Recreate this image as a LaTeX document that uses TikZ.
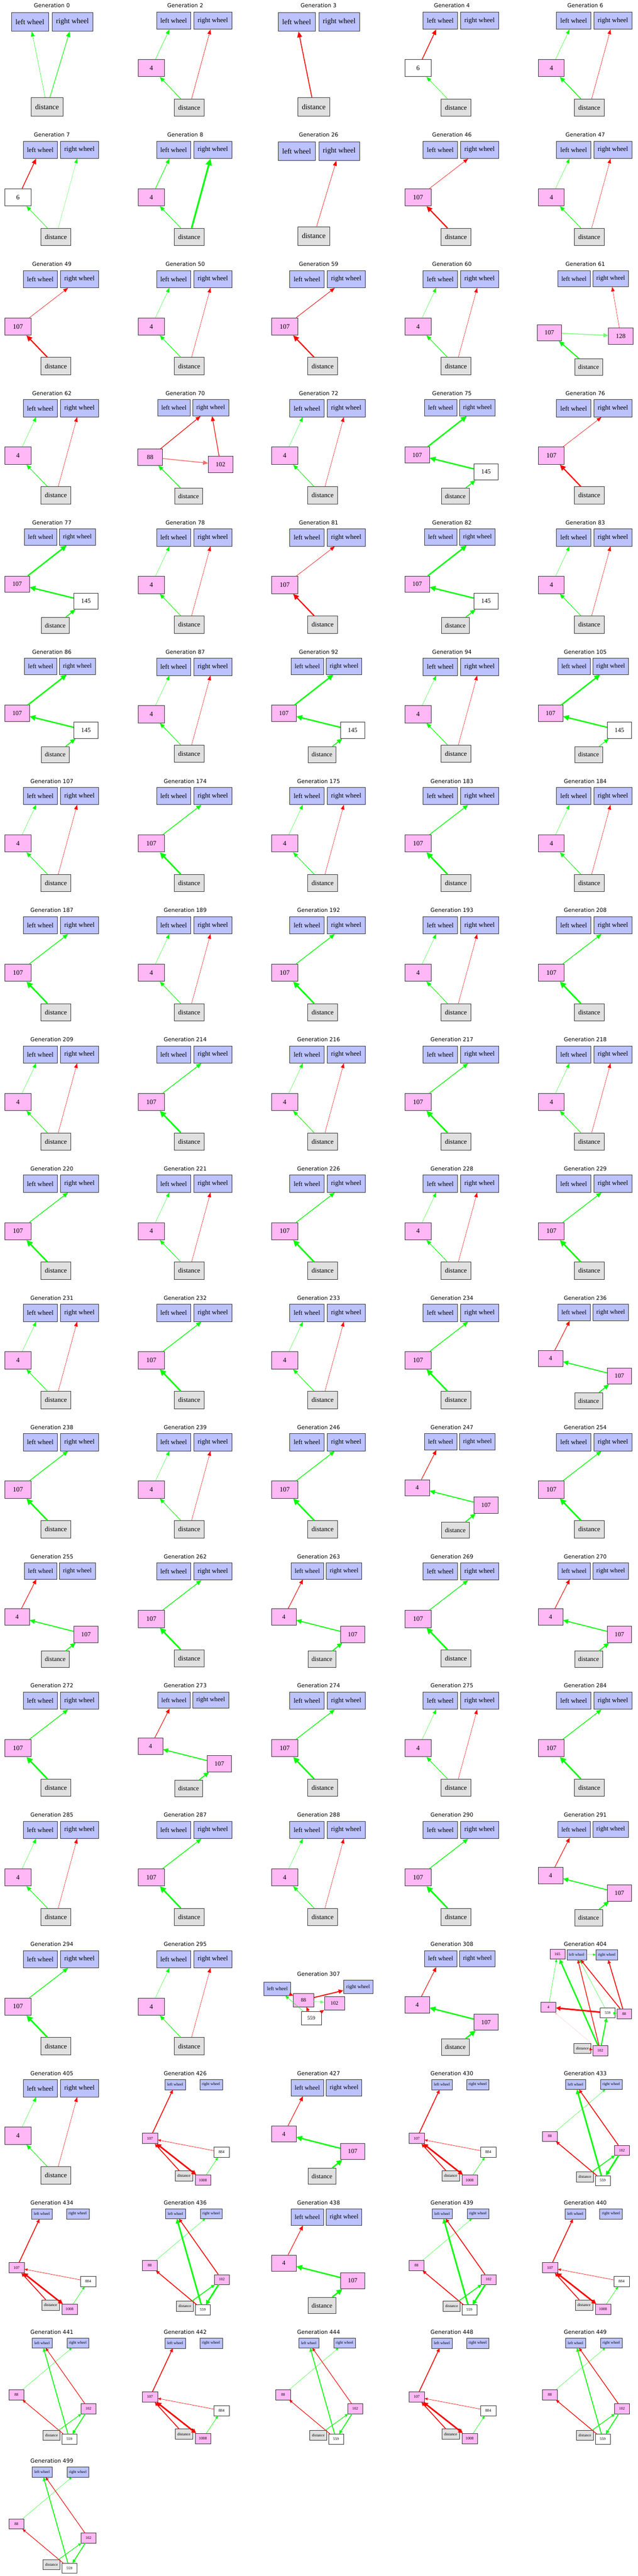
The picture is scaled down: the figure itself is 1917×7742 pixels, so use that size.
\documentclass[tikz,border=0pt]{standalone}
\usepackage{fontspec}
\setmainfont{Liberation Serif}
\newfontfamily\gentitlefont{DejaVu Sans}
\usetikzlibrary{arrows.meta}

\definecolor{wheelblue}{RGB}{187,194,255}
\definecolor{hiddenpink}{RGB}{255,184,245}
\definecolor{sensorgrey}{RGB}{224,224,224}
\definecolor{posgreen}{RGB}{0,255,0}
\definecolor{negred}{RGB}{255,0,0}
\definecolor{palepos}{RGB}{110,255,110}
\definecolor{paleneg}{RGB}{255,105,105}
\definecolor{faintneg}{RGB}{255,195,195}

\newcommand{\setgs}[1]{\def\gs{#1}\pgfmathsetmacro{\tipl}{9*#1}\pgfmathsetmacro{\tipw}{6.5*#1}}
\newcommand{\gfont}{\fontsize{\fpeval{14*\gs}}{\fpeval{16*\gs}}\selectfont}

\tikzset{
  gbox/.style={rectangle, draw=black!80, line width={0.9*\gs}, minimum height={36*\gs},
    minimum width={54*\gs}, inner xsep={7.9*\gs}, inner ysep=0pt, font=\gfont},
  wheel/.style={gbox, fill=wheelblue},
  hidden/.style={gbox, fill=hiddenpink},
  plainbox/.style={gbox, fill=white},
  sensor/.style={gbox, fill=sensorgrey},
  gentitle/.style={font=\gentitlefont\fontsize{16.5}{19}\selectfont, inner sep=0pt},
  link/.style={draw, arrows={-Triangle[length=\tipl pt 1.3, width=\tipw pt 1.8]}},
  twoway/.style={arrows={Triangle[length=\tipl pt 1.3, width=\tipw pt 1.8]-Triangle[length=\tipl pt 1.3, width=\tipw pt 1.8]}},
  grn/.style={link, draw=posgreen, line width=#1pt},
  rd/.style={link, draw=negred, line width=#1pt},
  palegrn/.style={link, draw=palepos, line width=#1pt},
  palerd/.style={link, draw=paleneg, line width=#1pt},
  faintrd/.style={link, draw=faintneg, line width=#1pt}
}

\newcommand{\nohidden}[4]{%
  \begin{scope}[shift={(#1*401,#2*388.4)}]
    \setgs{1.556}
    \node[gentitle] (title#3) at (156,17) {Generation #3};
    \node[wheel] (lw#3) at (90,66) {left wheel};
    \node[wheel] (rw#3) at (218,66) {right wheel};
    \node[sensor] (d#3) at (141.5,321) {distance};
    \path #4;
  \end{scope}}

\newcommand{\onehidden}[6]{%
  \begin{scope}[shift={(#1*401,#2*388.4)}]
    \setgs{1.44}
    \node[gentitle] (title#3) at (156,17) {Generation #3};
    \node[wheel] (lw#3) at (121,62) {left wheel};
    \node[wheel] (rw#3) at (239,62) {right wheel};
    \node[#5] (h#3) at (54,204.5) {#4};
    \node[sensor] (d#3) at (168,323.5) {distance};
    \path #6;
  \end{scope}}

\newcommand{\fourpanel}[3]{\onehidden{#1}{#2}{#3}{4}{hidden}{(d#3) edge[grn=1.5] (h#3) (h#3) edge[grn=0.6] (lw#3) (d#3) edge[rd=0.8] (rw#3)}}
\newcommand{\greenpanel}[3]{\onehidden{#1}{#2}{#3}{107}{hidden}{(d#3) edge[grn=4.5] (h#3) (h#3) edge[grn=2] (rw#3)}}
\newcommand{\redpanel}[3]{\onehidden{#1}{#2}{#3}{107}{hidden}{(d#3) edge[rd=3.5] (h#3) (h#3) edge[rd=1] (rw#3)}}

\newcommand{\twohidden}[9]{%
  \begin{scope}[shift={(#1*401,#2*388.4)}]
    \setgs{1.36}
    \node[gentitle] (title#3) at (156,17) {Generation #3};
    \node[wheel] (lw#3) at (122,60.5) {left wheel};
    \node[wheel] (rw#3) at (232.5,60.5) {right wheel};
    \node[hidden] (p#3) at #5 {#4};
    \node[#7] (q#3) at #8 {#6};
    \node[sensor] (d#3) at (166,326) {distance};
    \path #9;
  \end{scope}}

\newcommand{\relaypanel}[4]{\twohidden{#1}{#2}{#3}{107}{(51.5,202)}{145}{plainbox}{(258.5,253)}{(d#3) edge[grn=#4] (q#3) (q#3) edge[grn=4] (p#3) (p#3) edge[grn=4] (rw#3)}}
\newcommand{\crosspanel}[4]{\twohidden{#1}{#2}{#3}{4}{(51.5,199)}{107}{hidden}{(258.5,251.5)}{(d#3) edge[grn=#4] (q#3) (q#3) edge[grn=#4] (p#3) (p#3) edge[rd=1.6] (lw#3)}}

\newcommand{\loopnet}[3]{%
  \begin{scope}[shift={(#1*401,#2*388.4)}]
    \setgs{0.86}
    \node[gentitle] (title#3) at (156,17) {Generation #3};
    \node[wheel] (lw#3) at (126,50.5) {left wheel};
    \node[wheel] (rw#3) at (233.5,50.5) {right wheel};
    \node[hidden] (h#3) at (50,212.5) {107};
    \node[plainbox] (n884-#3) at (265,253.5) {884};
    \node[sensor] (d#3) at (152,324.5) {distance};
    \node[hidden] (n1008-#3) at (209,337.5) {1008};
    \path (h#3) edge[rd=2.5] (lw#3)
          (n884-#3) edge[rd=1] (h#3)
          (d#3) edge[rd=2.5] (h#3)
          (h#3) edge[rd=4.5, twoway] (n1008-#3)
          (n1008-#3) edge[grn=1] (n884-#3);
  \end{scope}}

\newcommand{\crossnet}[5]{%
  \begin{scope}[shift={(#1*401,#2*388.4)}]
    \setgs{0.83}
    \node[gentitle] (title#3) at (156,17) {Generation #3};
    \node[wheel] (lw#3) at (126.5,50) {left wheel};
    \node[wheel] (rw#3) at (234,50) {right wheel};
    \node[hidden] (n88-#3) at (49.5,206) {88};
    \node[hidden] (n102-#3) at (266,248) {102};
    \node[sensor] (d#3) at (155,328) {distance};
    \node[plainbox] (n559-#3) at (208.5,339) {559};
    \path (n88-#3) edge[grn=0.6] (rw#3)
          (n559-#3) edge[grn=#4] (lw#3)
          (n102-#3) edge[rd=#5] (lw#3)
          (n559-#3) edge[rd=#5] (n88-#3)
          (d#3) edge[grn=#5] (n102-#3)
          (n102-#3) edge[grn=#4] (n559-#3);
  \end{scope}}

\begin{document}
\begin{tikzpicture}[x=1pt,y=-1pt]
\path[use as bounding box, fill=white] (0,0) rectangle (1917,7742);

\nohidden{0}{0}{0}{(d0) edge[grn=0.8] (lw0) (d0) edge[grn=1.6] (rw0)}
\onehidden{1}{0}{2}{4}{hidden}{(d2) edge[grn=1.6] (h2) (h2) edge[grn=0.9] (lw2) (d2) edge[rd=1] (rw2)}
\nohidden{2}{0}{3}{(d3) edge[rd=2.5] (lw3)}
\onehidden{3}{0}{4}{6}{plainbox}{(d4) edge[grn=1] (h4) (h4) edge[rd=2.2] (lw4)}
\onehidden{4}{0}{6}{4}{hidden}{(d6) edge[grn=2.2] (h6) (h6) edge[grn=0.7] (lw6) (d6) edge[rd=0.9] (rw6)}

\onehidden{0}{1}{7}{6}{plainbox}{(d7) edge[grn=1.3] (h7) (h7) edge[rd=2.2] (lw7) (d7) edge[grn=0.4] (rw7)}
\onehidden{1}{1}{8}{4}{hidden}{(d8) edge[grn=1.5] (h8) (h8) edge[grn=1.5] (lw8) (d8) edge[grn=5] (rw8)}
\nohidden{2}{1}{26}{(d26) edge[rd=1] (rw26)}
\redpanel{3}{1}{46}
\fourpanel{4}{1}{47}

\redpanel{0}{2}{49}
\fourpanel{1}{2}{50}
\onehidden{2}{2}{59}{107}{hidden}{(d59) edge[rd=3.5] (h59) (h59) edge[rd=1.4] (rw59)}
\fourpanel{3}{2}{60}
\twohidden{4}{2}{61}{107}{(48,223)}{128}{hidden}{(262.5,233)}{(d61) edge[grn=3] (p61) (p61) edge[palegrn=2] (q61) (q61) edge[rd=0.8] (rw61)}

\fourpanel{0}{3}{62}
\twohidden{1}{3}{70}{88}{(50.5,209)}{102}{hidden}{(262,230.5)}{(d70) edge[grn=2] (p70) (p70) edge[palerd=2.2] (q70) (p70) edge[rd=1.8] (rw70) (q70) edge[rd=1.8] (rw70)}
\fourpanel{2}{3}{72}
\relaypanel{3}{3}{75}{2.5}
\redpanel{4}{3}{76}

\relaypanel{0}{4}{77}{2.5}
\fourpanel{1}{4}{78}
\redpanel{2}{4}{81}
\relaypanel{3}{4}{82}{2.5}
\fourpanel{4}{4}{83}

\relaypanel{0}{5}{86}{2.5}
\fourpanel{1}{5}{87}
\relaypanel{2}{5}{92}{2.5}
\fourpanel{3}{5}{94}
\relaypanel{4}{5}{105}{1.6}

\fourpanel{0}{6}{107}
\greenpanel{1}{6}{174}
\fourpanel{2}{6}{175}
\greenpanel{3}{6}{183}
\fourpanel{4}{6}{184}

\greenpanel{0}{7}{187}
\fourpanel{1}{7}{189}
\greenpanel{2}{7}{192}
\fourpanel{3}{7}{193}
\greenpanel{4}{7}{208}

\fourpanel{0}{8}{209}
\greenpanel{1}{8}{214}
\fourpanel{2}{8}{216}
\greenpanel{3}{8}{217}
\fourpanel{4}{8}{218}

\greenpanel{0}{9}{220}
\fourpanel{1}{9}{221}
\greenpanel{2}{9}{226}
\fourpanel{3}{9}{228}
\greenpanel{4}{9}{229}

\fourpanel{0}{10}{231}
\greenpanel{1}{10}{232}
\fourpanel{2}{10}{233}
\greenpanel{3}{10}{234}
\crosspanel{4}{10}{236}{2.8}

\greenpanel{0}{11}{238}
\fourpanel{1}{11}{239}
\greenpanel{2}{11}{246}
\crosspanel{3}{11}{247}{2.8}
\greenpanel{4}{11}{254}

\crosspanel{0}{12}{255}{2.8}
\greenpanel{1}{12}{262}
\crosspanel{2}{12}{263}{2.8}
\greenpanel{3}{12}{269}
\crosspanel{4}{12}{270}{2.8}

\greenpanel{0}{13}{272}
\crosspanel{1}{13}{273}{2.8}
\greenpanel{2}{13}{274}
\fourpanel{3}{13}{275}
\greenpanel{4}{13}{284}

\fourpanel{0}{14}{285}
\greenpanel{1}{14}{287}
\fourpanel{2}{14}{288}
\greenpanel{3}{14}{290}
\crosspanel{4}{14}{291}{2.8}

\greenpanel{0}{15}{294}
\fourpanel{1}{15}{295}
\begin{scope}[shift={(2*401,15*388.4)}]
  \setgs{1.12}
  \node[gentitle] (title307) at (156,106.5) {Generation 307};
  \node[wheel] (lw307) at (32,151) {left wheel};
  \node[wheel] (rw307) at (275,145.5) {right wheel};
  \node[hidden] (n88-307) at (110.5,185) {88};
  \node[hidden] (n102-307) at (203.5,195) {102};
  \node[plainbox] (n559-307) at (134,239.5) {559};
  \path (n559-307) edge[grn=0.8] (lw307)
        (n559-307) edge[rd=1.5] (n88-307)
        (lw307) edge[rd=1.5] (n88-307)
        (n88-307) edge[rd=3] (rw307)
        (n88-307) edge[palegrn=1] (n102-307)
        (n559-307) edge[rd=2] (n102-307);
\end{scope}
\crosspanel{3}{15}{308}{4}
\begin{scope}[shift={(4*401,15*388.4)}]
  \setgs{0.83}
  \node[gentitle] (title404) at (156,17) {Generation 404};
  \node[hidden] (n165-404) at (72,47) {165};
  \node[wheel] (lw404) at (130,49) {left wheel};
  \node[wheel] (rw404) at (220.5,49) {right wheel};
  \node[hidden] (n4-404) at (45,206.5) {4};
  \node[plainbox] (n559-404) at (223,223.5) {559};
  \node[hidden] (n88-404) at (273,226) {88};
  \node[sensor] (d404) at (147.5,329.5) {distance};
  \node[hidden] (n102-404) at (201,337) {102};
  \path (n165-404) edge[grn=0.6] (rw404)
        (n4-404) edge[grn=0.8] (n165-404)
        (n102-404) edge[grn=4] (n165-404)
        (n102-404) edge[rd=2] (lw404)
        (n559-404) edge[grn=0.6] (lw404)
        (n88-404) edge[rd=2.5] (lw404)
        (n88-404) edge[rd=2.5] (rw404)
        (n559-404) edge[rd=4.5] (n4-404)
        (n102-404) edge[faintrd=0.6] (n4-404)
        (n102-404) edge[grn=3] (n559-404)
        (n559-404) edge[grn=1.5] (n88-404)
        (d404) edge[rd=1.5] (n102-404);
\end{scope}

\fourpanel{0}{16}{405}
\loopnet{1}{16}{426}
\crosspanel{2}{16}{427}{4}
\loopnet{3}{16}{430}
\crossnet{4}{16}{433}{4.5}{2.5}

\loopnet{0}{17}{434}
\crossnet{1}{17}{436}{4.5}{2.5}
\crosspanel{2}{17}{438}{4}
\crossnet{3}{17}{439}{4.5}{2.5}
\loopnet{4}{17}{440}

\crossnet{0}{18}{441}{2.5}{1.6}
\loopnet{1}{18}{442}
\crossnet{2}{18}{444}{2.5}{1.6}
\loopnet{3}{18}{448}
\crossnet{4}{18}{449}{2.5}{2}

\crossnet{0}{19}{499}{2.5}{1.6}
\end{tikzpicture}
\end{document}
